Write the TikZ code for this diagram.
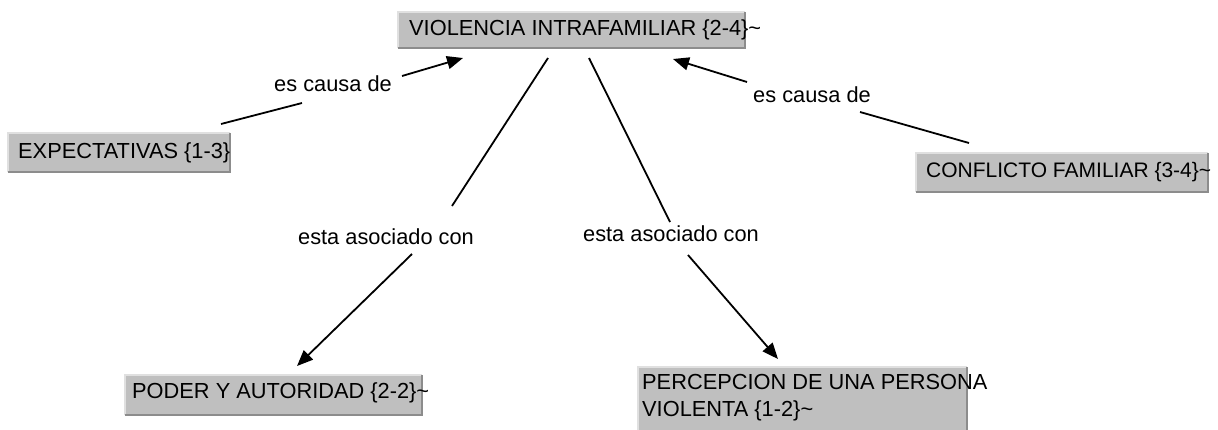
\documentclass[tikz,border=0pt]{standalone}
\usepackage{fontspec}
\setmainfont{Liberation Sans}
\usetikzlibrary{arrows.meta}

\begin{document}
\begin{tikzpicture}[x=1pt,y=-1pt,
    concept/.style={fill=black!25,inner sep=0pt},
    bevhi/.style={line width=2.5pt,black!12},
    bevlo/.style={line width=2.5pt,black!45},
    ctext/.style={anchor=west,inner sep=0pt,align=left,font=\fontsize{21.8}{27}\selectfont},
    phrase/.style={inner sep=2pt,font=\fontsize{21.8}{27}\selectfont},
    link/.style={line width=1.8pt},
    arr/.style={link,-{Triangle[length=16pt,width=13pt]}}]
    \clip (0,0) rectangle (1218,429);
    \fill[white] (0,0) rectangle (1218,429);
    %Konzepte
    \node[concept,minimum width=347pt,minimum height=36pt] (vio) at (571.5,30) {};
    \node[concept,minimum width=222pt,minimum height=39pt] (exp) at (119,152.5) {};
    \node[concept,minimum width=292pt,minimum height=39pt] (con) at (1062,172.5) {};
    \node[concept,minimum width=297pt,minimum height=40pt] (pod) at (273.5,395) {};
    \node[concept,minimum width=329pt,minimum height=80pt] (per) at (802.5,407) {};
    \foreach \n in {vio,exp,con,pod,per} {
        \draw[bevhi] (\n.south west) |- (\n.north east);
        \draw[bevlo] (\n.north east) |- (\n.south west);
    }
    \node[ctext] (viot) at (409,30) {VIOLENCIA INTRAFAMILIAR \{2-4\}\textasciitilde};
    \node[ctext] (expt) at (18,152.5) {EXPECTATIVAS \{1-3\}};
    \node[ctext,font=\fontsize{21}{27}\selectfont] (cont) at (926,172.5) {CONFLICTO FAMILIAR \{3-4\}\textasciitilde};
    \node[ctext] (podt) at (132,393) {PODER Y AUTORIDAD \{2-2\}\textasciitilde};
    \node[ctext] (pert) at (642,398) {PERCEPCION DE UNA PERSONA\\VIOLENTA \{1-2\}\textasciitilde};
    %Verbindungen
    \node[phrase] (causa1) at (333,84) {es causa de};
    \node[phrase] (causa2) at (812,95) {es causa de};
    \node[phrase] (asoc1) at (386,237) {esta asociado con};
    \node[phrase] (asoc2) at (671,234) {esta asociado con};
    \coordinate (e1) at (221,124); \coordinate (e2) at (302,103);
    \coordinate (e3) at (402,76);  \coordinate (e4) at (463,58);
    \coordinate (c1) at (969,143); \coordinate (c2) at (860,112);
    \coordinate (c3) at (747,82);  \coordinate (c4) at (673,59);
    \coordinate (a1) at (548,58);  \coordinate (a2) at (452,206);
    \coordinate (a3) at (412,254); \coordinate (a4) at (297,366);
    \coordinate (b1) at (589,58);  \coordinate (b2) at (670,222);
    \coordinate (b3) at (688,255); \coordinate (b4) at (778,359);
    \draw[link] (e1) -- (e2);
    \draw[arr] (e3) -- (e4);
    \draw[link] (c1) -- (c2);
    \draw[arr] (c3) -- (c4);
    \draw[link] (a1) -- (a2);
    \draw[arr] (a3) -- (a4);
    \draw[link] (b1) -- (b2);
    \draw[arr] (b3) -- (b4);
\end{tikzpicture}
\end{document}
